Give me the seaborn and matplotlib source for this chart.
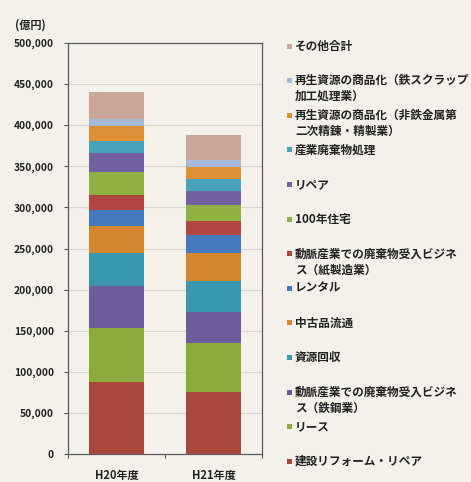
import matplotlib
matplotlib.use("Agg")
import matplotlib.pyplot as plt
from matplotlib.patches import Rectangle
from matplotlib.ticker import FuncFormatter, MultipleLocator
import numpy as np
import pandas as pd
import seaborn as sns

# Fiscal years on the category axis
years = ["H20年度", "H21年度"]

# Series, listed from the bottom of the stack upward (億円)
series = [
    "建設リフォーム・リペア",
    "リース",
    "動脈産業での廃棄物受入ビジネ\nス（鉄鋼業）",
    "資源回収",
    "中古品流通",
    "レンタル",
    "動脈産業での廃棄物受入ビジネ\nス（紙製造業）",
    "100年住宅",
    "リペア",
    "産業廃棄物処理",
    "再生資源の商品化（非鉄金属第\n二次精錬・精製業）",
    "再生資源の商品化（鉄スクラップ\n加工処理業）",
    "その他合計",
]
h20_values = [87000, 66000, 51500, 40000, 32500, 20000, 18500,
              27000, 24000, 14500, 17500, 9500, 32000]
h21_values = [76000, 59000, 37500, 37500, 35000, 21500, 17500,
              18500, 17500, 15000, 14000, 9000, 30000]

colors = [
    "#a8483b", "#8bab3b", "#6e5b9b", "#3a97b0", "#d4872f", "#4479bd",
    "#b0463f", "#8fb043", "#7260a0", "#47a2ba", "#dc8f35", "#a4bad6",
    "#c9a697",
]

bg = "#f4f1eb"
sns.set_theme(style="white")
plt.rcParams["font.family"] = ["Noto Sans CJK JP", "DejaVu Sans"]

W, H = 471, 482
fig = plt.figure(figsize=(W / 100, H / 100), dpi=100, facecolor=bg)
ax = fig.add_axes([68 / W, 1 - 454 / H, 194 / W, 411 / H], facecolor=bg)

cum = np.zeros(len(years))
cums = []
for a, b in zip(h20_values, h21_values):
    cum = cum + np.array([a, b])
    cums.append(cum.copy())

# Stacked bars: draw cumulative totals from the top layer down
for i in range(len(series) - 1, -1, -1):
    d = pd.DataFrame({"year": years, "total": cums[i]})
    sns.barplot(data=d, x="year", y="total", order=years, color=colors[i],
                saturation=1, width=0.56, errorbar=None, ax=ax,
                linewidth=0, zorder=3)

ax.set_xlim(-0.48, 1.49)
ax.set_ylim(0, 500000)
ax.yaxis.set_major_locator(MultipleLocator(50000))
ax.yaxis.set_major_formatter(FuncFormatter(lambda v, p: f"{int(v):,}"))
ax.grid(axis="y", color="#d6d4cf", linewidth=0.8, zorder=0)
ax.set_xlabel("")
ax.set_ylabel("")

for s in ax.spines.values():
    s.set_visible(True)
    s.set_color("#5a5a5a")
    s.set_linewidth(0.9)

ax.tick_params(axis="y", which="major", left=True, length=3, width=0.8,
               color="#5a5a5a", pad=7, labelsize=7.4, labelcolor="#222222")
ax.tick_params(axis="x", bottom=False, labelsize=8, labelcolor="#222222",
               pad=5)
for lab in ax.get_yticklabels() + ax.get_xticklabels():
    lab.set_fontweight("bold")

# category-boundary ticks on the baseline
ax.set_xticks([-0.5, 0.5, 1.5], minor=True)
ax.tick_params(axis="x", which="minor", bottom=True, length=3, width=0.8,
               color="#5a5a5a")

fig.text(15 / W, 1 - 25 / H, "(億円)", fontsize=8, fontweight="bold",
         color="#222222", va="center", ha="left")

# Legend: fixed slots, top entry is the top of the stack
slot0, step = 46.0, 34.62
for k, i in enumerate(range(len(series) - 1, -1, -1)):
    yc = slot0 + k * step
    fig.patches.append(Rectangle((287 / W, 1 - (yc + 2.5) / H), 5 / W, 5 / H,
                                 transform=fig.transFigure,
                                 facecolor=colors[i], edgecolor="none"))
    for j, line in enumerate(series[i].split("\n")):
        fig.text(295 / W, 1 - (yc + j * 16) / H, line, fontsize=8.4,
                 fontweight="bold", color="#222222", va="center", ha="left")

fig.savefig("out.png", dpi=100, facecolor=bg)
